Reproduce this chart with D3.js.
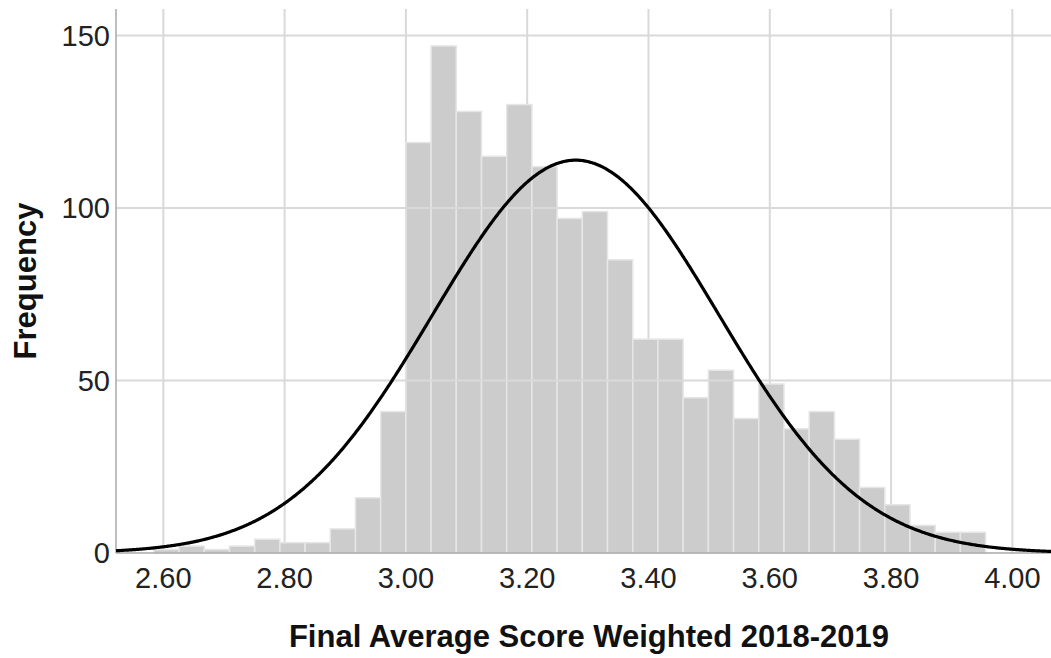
<!DOCTYPE html>
<html>
<head>
<meta charset="utf-8">
<script src="https://cdn.jsdelivr.net/npm/d3@7/dist/d3.min.js"></script>
<style>
  html, body { margin: 0; padding: 0; background: #ffffff; }
  svg { display: block; }
</style>
</head>
<body>
<svg id="chart" width="1051" height="658"></svg>
<script>
// ---- data ----
const binStart = 2.5844;          // lower edge of first bin
const binWidth = 0.04156;         // width of each bin
const counts = [1, 2, 1, 2, 4, 3, 3, 7, 16, 41,
                119, 147, 128, 115, 130, 112, 97, 99, 85,
                62, 62, 45, 53, 39, 49, 36, 41, 33, 19, 14, 8, 6, 6];
const xTicks = [2.60, 2.80, 3.00, 3.20, 3.40, 3.60, 3.80, 4.00];
const yTicks = [0, 50, 100, 150];
const normalMean = 3.28;
const normalSD = 0.236;
const normalN = 1621;
const xTitle = "Final Average Score Weighted 2018-2019";
const yTitle = "Frequency";

// ---- layout ----
const svg = d3.select("#chart");
const mLeft = 116, mRight = 1051, mTop = 9, mBottom = 553;

const x = d3.scaleLinear().domain([2.522, 4.0637]).range([mLeft, mRight]);
const y = d3.scaleLinear().domain([0, 157.7]).range([mBottom, mTop]);

const bins = counts.map((c, i) => ({x0: binStart + i * binWidth, x1: binStart + (i + 1) * binWidth, c}));

// vertical gridlines (behind bars)
svg.append("g").selectAll("line").data(xTicks).join("line")
  .attr("x1", d => x(d)).attr("x2", d => x(d))
  .attr("y1", mTop).attr("y2", mBottom)
  .attr("stroke", "#d9d9d9").attr("stroke-width", 2);

// bars
svg.append("g").selectAll("rect").data(bins.filter(b => b.c > 0)).join("rect")
  .attr("x", d => x(d.x0))
  .attr("y", d => y(d.c))
  .attr("width", d => x(d.x1) - x(d.x0))
  .attr("height", d => y(0) - y(d.c))
  .attr("fill", "#cccccc")
  .attr("stroke", "#e6e6e6")
  .attr("stroke-width", 1.5);

// horizontal gridlines (on top of bars)
svg.append("g").selectAll("line").data(yTicks.filter(d => d > 0)).join("line")
  .attr("x1", mLeft).attr("x2", mRight)
  .attr("y1", d => y(d)).attr("y2", d => y(d))
  .attr("stroke", "#d9d9d9").attr("stroke-width", 2);

// axes lines
svg.append("line").attr("x1", mLeft).attr("x2", mLeft).attr("y1", mTop).attr("y2", mBottom)
  .attr("stroke", "#a8a8a8").attr("stroke-width", 1.5);
svg.append("line").attr("x1", mLeft).attr("x2", mRight).attr("y1", mBottom).attr("y2", mBottom)
  .attr("stroke", "#a8a8a8").attr("stroke-width", 1.5);

// normal curve
const pts = d3.range(x.domain()[0], x.domain()[1] + 0.0005, 0.002);
const dens = v => normalN * binWidth / (normalSD * Math.sqrt(2 * Math.PI)) *
  Math.exp(-0.5 * Math.pow((v - normalMean) / normalSD, 2));
svg.append("path")
  .datum(pts)
  .attr("d", d3.line().x(v => x(v)).y(v => y(dens(v))).curve(d3.curveBasis))
  .attr("fill", "none").attr("stroke", "#000000").attr("stroke-width", 3.2);

// y tick labels
const font = "'Liberation Sans', Arial, sans-serif";
svg.append("g").selectAll("text").data(yTicks).join("text")
  .attr("x", 110).attr("y", d => y(d))
  .attr("dy", "0.36em")
  .attr("text-anchor", "end")
  .attr("font-family", font).attr("font-size", 29).attr("fill", "#222")
  .text(d => d3.format("d")(d));

// x tick labels
svg.append("g").selectAll("text").data(xTicks).join("text")
  .attr("x", d => x(d)).attr("y", 578)
  .attr("dy", "0.36em")
  .attr("text-anchor", "middle")
  .attr("font-family", font).attr("font-size", 29).attr("fill", "#222")
  .text(d => d3.format(".2f")(d));

// titles
svg.append("text")
  .attr("x", 589).attr("y", 647)
  .attr("text-anchor", "middle")
  .attr("font-family", font).attr("font-weight", "bold").attr("font-size", 31).attr("fill", "#111")
  .text(xTitle);
svg.append("text")
  .attr("transform", "translate(36,281) rotate(-90)")
  .attr("text-anchor", "middle")
  .attr("font-family", font).attr("font-weight", "bold").attr("font-size", 31).attr("fill", "#111")
  .text(yTitle);
</script>
</body>
</html>
